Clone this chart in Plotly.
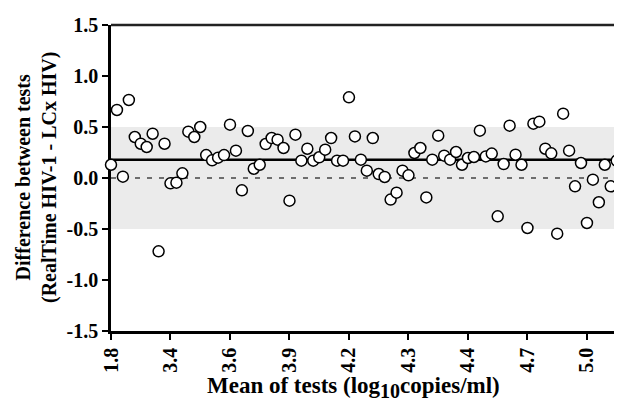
import plotly.graph_objects as go

# Differences (RealTime HIV-1 - LCx HIV), ordered by mean of tests (rank order)
diff = [0.13, 0.667, 0.013, 0.765, 0.402, 0.336, 0.304, 0.434, -0.719, 0.336,
        -0.052, -0.046, 0.046, 0.454, 0.402, 0.50, 0.225, 0.173, 0.199, 0.225,
        0.523, 0.268, -0.121, 0.461, 0.091, 0.13, 0.333, 0.392, 0.376, 0.294,
        -0.222, 0.425, 0.17, 0.287, 0.17, 0.203, 0.278, 0.392, 0.17, 0.17,
        0.791, 0.408, 0.18, 0.072, 0.392, 0.039, 0.01, -0.212, -0.144, 0.072,
        0.026, 0.245, 0.294, -0.19, 0.18, 0.415, 0.219, 0.18, 0.255, 0.13,
        0.196, 0.206, 0.464, 0.212, 0.239, -0.376, 0.137, 0.513, 0.229, 0.13,
        -0.49, 0.533, 0.552, 0.287, 0.242, -0.546, 0.631, 0.268, -0.082, 0.147,
        -0.441, -0.016, -0.238, 0.13, -0.082, 0.17, 0.091, 0.239]
rank = list(range(len(diff)))

tick_ranks = [0, 10, 20, 30, 40, 50, 60, 70, 80]
tick_labels = ["1.8", "3.4", "3.6", "3.9", "4.2", "4.3", "4.4", "4.7", "5.0"]

mean_diff = 0.18
band_low, band_high = -0.5, 0.5

serif = "Liberation Serif, Times New Roman, serif"

fig = go.Figure()
fig.add_trace(go.Scatter(
    x=rank, y=diff, mode="markers", cliponaxis=False,
    marker=dict(symbol="circle", size=11, color="white",
                line=dict(color="black", width=1.5)),
    showlegend=False, hoverinfo="skip"))

shapes = [
    dict(type="rect", xref="paper", yref="y", x0=0, x1=1, y0=band_low, y1=band_high,
         fillcolor="#ebebeb", line=dict(width=0), layer="below"),
    dict(type="line", xref="paper", yref="y", x0=0, x1=1, y0=0, y1=0,
         line=dict(color="#444444", width=1.5, dash="5px,7px"), layer="below"),
    dict(type="line", xref="paper", yref="y", x0=0, x1=1, y0=mean_diff, y1=mean_diff,
         line=dict(color="black", width=2.5), layer="below"),
    dict(type="line", xref="paper", yref="paper", x0=0, x1=1, y0=1, y1=1,
         line=dict(color="#222222", width=2.5), layer="below"),
    dict(type="line", xref="paper", yref="paper", x0=1, x1=1, y0=0, y1=1,
         line=dict(color="#999999", width=1), layer="below"),
]

fig.update_layout(
    width=622, height=403,
    margin=dict(l=103, r=2, t=17, b=80),
    paper_bgcolor="white", plot_bgcolor="white",
    shapes=shapes,
    font=dict(family=serif, color="black"),
    xaxis=dict(range=[0, 86.9], tickvals=tick_ranks, ticktext=tick_labels,
               tickangle=-90, ticks="outside", ticklen=6, tickwidth=2,
               tickcolor="black", showline=True, linecolor="black", linewidth=2.5,
               showgrid=False, zeroline=False, layer="below traces",
               tickfont=dict(family=serif, size=20, color="black", weight="bold")),
    yaxis=dict(range=[-1.5, 1.5], tickvals=[1.5, 1.0, 0.5, 0.0, -0.5, -1.0, -1.5],
               ticktext=["1.5", "1.0", "0.5", "0.0", "-0.5", "-1.0", "-1.5"],
               ticks="outside", ticklen=6, tickwidth=2, tickcolor="black",
               showline=True, linecolor="black", linewidth=2.5,
               showgrid=False, zeroline=False, layer="below traces",
               tickfont=dict(family=serif, size=20, color="black", weight="bold")),
    annotations=[
        dict(text="<b>Mean of tests (log<sub><span style='font-size:20px'>10</span></sub>copies/ml)</b>",
             xref="paper", yref="paper", x=0.47, y=-0.185,
             xanchor="center", yanchor="middle", showarrow=False,
             font=dict(family=serif, size=23, color="black")),
        dict(text="<b>Difference between tests<br>(RealTime HIV-1 - LCx HIV)</b>",
             xref="paper", yref="paper", x=-0.145, y=0.5, textangle=-90,
             xanchor="center", yanchor="middle", showarrow=False,
             font=dict(family=serif, size=20, color="black")),
    ],
)

fig.write_html("out.html")
